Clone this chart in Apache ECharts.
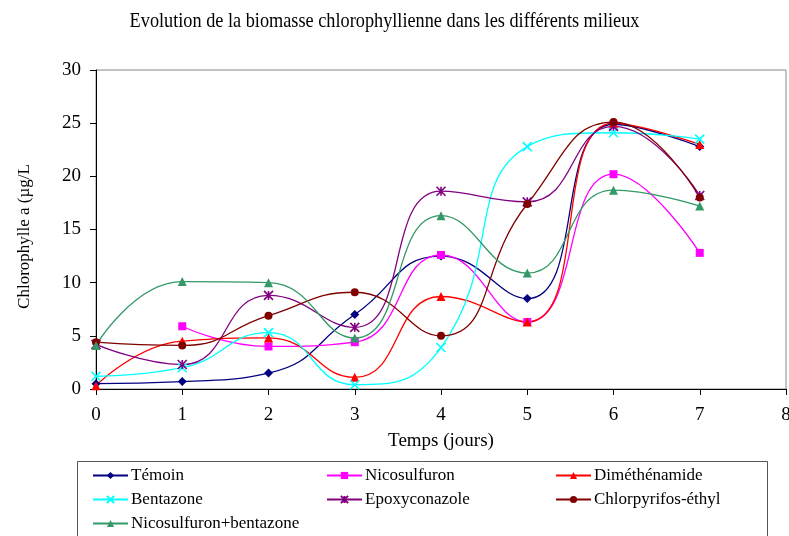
<!DOCTYPE html>
<html>
<head>
<meta charset="utf-8">
<script src="https://cdn.jsdelivr.net/npm/echarts@6/dist/echarts.min.js"></script>
<style>
  html, body { margin: 0; padding: 0; background: #fff; }
  #chart { width: 789px; height: 536px; }
</style>
</head>
<body>
<div id="chart"></div>
<script>
// Days of measurement
const days = [0, 1, 2, 3, 4, 5, 6, 7];

// Chlorophyll a (µg/L) per medium
const temoin        = [0.5, 0.7, 1.5, 7.0, 12.5, 8.5, 24.9, 22.8];
const nicosulfuron  = [null, 5.9, 4.0, 4.4, 12.6, 6.3, 20.2, 12.8];
const dimethenamide = [0.3, 4.5, 4.8, 1.1, 8.7, 6.3, 25.0, 23.0];
const bentazone     = [1.2, 2.0, 5.3, 0.4, 3.9, 22.8, 24.1, 23.5];
const epoxyconazole = [4.2, 2.3, 8.8, 5.8, 18.6, 17.6, 24.7, 18.2];
const chlorpyrifos  = [4.4, 4.1, 6.9, 9.1, 5.0, 17.4, 25.1, 18.0];
const nicoBenta     = [4.1, 10.1, 10.0, 4.8, 16.3, 10.9, 18.7, 17.2];

const xTicks = [0, 1, 2, 3, 4, 5, 6, 7, 8];
const yTicks = [0, 5, 10, 15, 20, 25, 30];

const FONT = '"Liberation Serif", "Times New Roman", serif';
const TITLE = 'Evolution de la biomasse chlorophyllienne dans les différents milieux';

const crossPath = 'path://M0,0L10,10M10,0L0,10';
const starPath = 'path://M0,0L10,10M10,0L0,10M5,0L5,10';

const seriesDefs = [
  { name: 'Témoin', values: temoin, color: '#000080', symbol: 'diamond', size: 9 },
  { name: 'Nicosulfuron', values: nicosulfuron, color: '#FF00FF', symbol: 'rect', size: 8 },
  { name: 'Diméthénamide', values: dimethenamide, color: '#FF0000', symbol: 'triangle', size: 9 },
  { name: 'Bentazone', values: bentazone, color: '#00FFFF', symbol: crossPath, size: 9 },
  { name: 'Epoxyconazole', values: epoxyconazole, color: '#800080', symbol: starPath, size: 9 },
  { name: 'Chlorpyrifos-éthyl', values: chlorpyrifos, color: '#800000', symbol: 'circle', size: 8 },
  { name: 'Nicosulfuron+bentazone', values: nicoBenta, color: '#339966', symbol: 'triangle', size: 9 }
];

const stroked = s => typeof s === 'string' && s.startsWith('path://');

const series = seriesDefs.map(d => ({
  name: d.name,
  type: 'line',
  smooth: 0.5,
  data: days.map((x, i) => [x, d.values[i]]).filter(p => p[1] !== null),
  symbol: d.symbol,
  symbolSize: d.size,
  showSymbol: true,
  lineStyle: { color: d.color, width: 1.3 },
  itemStyle: {
    color: stroked(d.symbol) ? 'rgba(0,0,0,0)' : d.color,
    borderColor: d.color,
    borderWidth: stroked(d.symbol) ? 1.6 : 0
  },
  emphasis: { disabled: true }
}));

// Legend entries laid out in three columns
const legendPos = [
  [92, 467], [326, 467], [555, 467],
  [92, 491], [326, 491], [555, 491],
  [92, 515]
];
const legends = seriesDefs.map((d, i) => ({
  data: [{ name: d.name, textStyle: { fontFamily: FONT, fontSize: 17, color: '#000' } }],
  left: legendPos[i][0],
  top: legendPos[i][1],
  itemWidth: 35,
  itemHeight: 9,
  padding: 0,
  selectedMode: false,
  textStyle: { fontFamily: FONT, fontSize: 17, color: '#000', padding: [0, 0, 0, -2] }
}));

const chart = echarts.init(document.getElementById('chart'), null, { renderer: 'canvas' });
chart.setOption({
  animation: false,
  backgroundColor: '#fff',
  textStyle: { fontFamily: FONT, color: '#000' },
  legend: legends,
  graphic: [
    {
      type: 'text',
      x: 384.5,
      y: 21,
      scaleX: 0.83,
      style: {
        text: TITLE,
        x: 0, y: 0,
        font: '22px "Liberation Serif", serif',
        fill: '#000',
        textAlign: 'center',
        textVerticalAlign: 'middle',
        align: 'center',
        verticalAlign: 'middle'
      }
    },
    {
      type: 'rect',
      shape: { x: 77.5, y: 461.5, width: 690, height: 90 },
      style: { fill: 'none', stroke: '#555', lineWidth: 1 },
      z: -1
    }
  ],
  grid: {
    left: 96, top: 70, right: 3, bottom: 147,
    containLabel: false,
    outerBoundsMode: 'none',
    show: true, borderColor: '#888', borderWidth: 1, backgroundColor: 'transparent'
  },
  xAxis: {
    type: 'value',
    min: xTicks[0], max: xTicks[xTicks.length - 1], interval: 1,
    name: 'Temps (jours)',
    nameLocation: 'middle',
    nameGap: 43,
    nameTextStyle: { fontFamily: FONT, fontSize: 19, color: '#000' },
    axisLine: { lineStyle: { color: '#000', width: 1 } },
    axisTick: { show: true, inside: false, length: 6, lineStyle: { color: '#000' } },
    axisLabel: { fontFamily: FONT, fontSize: 19, color: '#000', margin: 17 },
    splitLine: { show: false }
  },
  yAxis: {
    type: 'value',
    min: yTicks[0], max: yTicks[yTicks.length - 1], interval: 5,
    name: 'Chlorophylle a (µg/L',
    nameLocation: 'middle',
    nameGap: 63,
    nameRotate: 90,
    nameTextStyle: { fontFamily: FONT, fontSize: 17, color: '#000', padding: [0, 14, 0, 0] },
    axisLine: { show: true, lineStyle: { color: '#000', width: 1 } },
    axisTick: { show: true, length: 6, lineStyle: { color: '#000' } },
    axisLabel: { fontFamily: FONT, fontSize: 19, color: '#000', margin: 15 },
    splitLine: { show: false }
  },
  series: series
});
</script>
</body>
</html>
